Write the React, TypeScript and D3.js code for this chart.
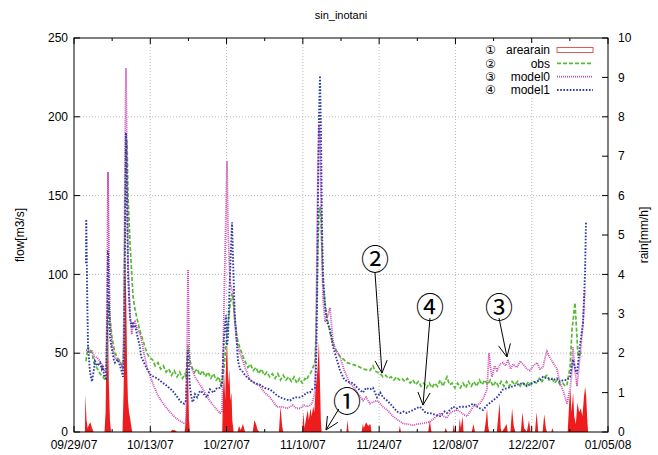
import React from "react";
import * as d3 from "d3";

// time axis: days counted from 09/29/07
const xTickLabels = ["09/29/07", "10/13/07", "10/27/07", "11/10/07", "11/24/07", "12/08/07", "12/22/07", "01/05/08"];
const flowTicks = [0, 50, 100, 150, 200, 250];
const rainTicks = [0, 1, 2, 3, 4, 5, 6, 7, 8, 9, 10];

// [day, rain mm/h]
const arearain: [number, number][] = [
  [2.0, 0], [2.1, 0.95], [2.3, 0.3], [2.5, 0.1], [2.8, 0.2], [3.0, 0.25], [3.3, 0.1], [3.6, 0],
  [5.6, 0], [5.8, 0.5], [5.95, 2.0], [6.1, 3.5], [6.25, 2.6], [6.4, 1.2], [6.6, 0.3], [6.8, 0],
  [8.9, 0], [9.1, 1.0], [9.3, 3.0], [9.45, 4.5], [9.6, 3.2], [9.75, 1.6], [9.9, 0.8], [10.1, 0.5], [10.3, 0.35], [10.5, 0.15], [10.7, 0],
  [14.0, 0], [14.1, 0.05], [14.3, 0], [17.8, 0], [18.0, 0.06], [18.6, 0.04], [18.9, 0],
  [20.3, 0], [20.45, 0.2], [20.65, 0.8], [20.8, 2.2], [20.95, 1.4], [21.1, 0.3], [21.3, 0],
  [27.2, 0], [27.35, 1.0], [27.55, 1.5], [27.75, 0.8], [27.9, 1.8], [28.1, 2.3], [28.3, 1.2], [28.5, 1.6], [28.7, 0.8], [28.9, 1.0], [29.05, 0.3], [29.3, 0],
  [30.0, 0], [30.3, 0.15], [30.6, 0.05], [31.0, 0.2], [31.4, 0], [32.8, 0], [33.1, 0.3], [33.4, 0.2], [33.7, 0.05], [34.0, 0],
  [37.6, 0], [37.9, 0.65], [38.2, 0.15], [38.4, 0],
  [41.9, 0], [42.1, 0.5], [42.3, 0.1], [42.6, 0.35], [42.9, 0.55], [43.1, 0.3], [43.4, 0.6], [43.6, 0.4], [43.9, 0.65], [44.1, 0.5],
  [44.3, 1.0], [44.5, 1.3], [44.7, 1.6], [44.95, 2.3], [45.15, 1.2], [45.3, 0.3], [45.45, 0],
  [50.0, 0], [50.2, 0.3], [50.4, 0], [52.8, 0], [53.0, 0.2], [53.2, 0.1], [53.6, 0.25], [54.0, 0.15], [54.4, 0.2], [54.6, 0],
  [59.6, 0], [59.8, 0.15], [60.0, 0], [65.0, 0], [65.3, 0.3], [65.6, 0], [68.0, 0], [68.2, 0.1], [68.5, 0],
  [69.5, 0], [69.7, 0.2], [69.9, 0], [70.6, 0], [70.8, 0.35], [71.0, 0.1], [71.3, 0.4], [71.5, 0],
  [73.0, 0], [73.3, 0.2], [73.6, 0], [75.3, 0], [75.6, 0.3], [75.8, 0.6], [76.0, 0.15], [76.2, 0],
  [77.6, 0], [77.9, 0.45], [78.1, 0.75], [78.3, 0.1], [78.5, 0], [79.0, 0.1], [79.4, 0.2], [79.6, 0],
  [80.1, 0], [80.4, 0.6], [80.7, 0.15], [81.0, 0], [82.0, 0], [82.3, 0.5], [82.6, 0.1], [83.1, 0], [83.5, 0.3], [83.8, 0],
  [84.6, 0], [84.9, 0.5], [85.2, 0], [86.0, 0], [86.3, 0.45], [86.6, 0.1], [86.8, 0], [87.6, 0], [87.8, 0.1], [88.0, 0],
  [90.6, 0], [90.9, 0.8], [91.1, 1.1], [91.3, 0.5], [91.6, 1.0], [91.8, 0.4], [92.1, 0.2], [92.4, 0.75], [92.7, 0.5],
  [93.0, 0.6], [93.3, 0.4], [93.6, 0.9], [93.8, 1.15], [94.0, 0.9], [94.2, 0.3], [94.35, 0],
];

// [day, flow m3/s]
const obs: [number, number][] = [
  [2.2, 45], [2.57, 54], [2.94, 52], [3.3, 50], [3.67, 44], [4.3, 40], [4.77, 37], [5.1, 36], [5.51, 34], [5.87, 33],
  [6.06, 45], [6.24, 70], [6.42, 82], [6.61, 72], [6.97, 60], [7.52, 50], [8.0, 47], [8.44, 45], [8.99, 40],
  [9.18, 60], [9.36, 140], [9.54, 180], [9.73, 185], [9.91, 150], [10.28, 120], [10.6, 100], [10.83, 86], [11.19, 78],
  [11.56, 72], [12.11, 64], [12.3, 62], [12.85, 56], [13.4, 50], [13.9, 47], [14.4, 46], [14.9, 42], [15.4, 44], [15.9, 40],
  [16.4, 42], [16.9, 38], [17.4, 40], [17.9, 36], [18.4, 39], [18.9, 35], [19.4, 38], [19.9, 34], [20.4, 37], [20.55, 34],
  [20.74, 45], [20.92, 55], [21.1, 50], [21.29, 45], [21.66, 41], [22.1, 38], [22.6, 40], [23.1, 36], [23.6, 39], [24.1, 35],
  [24.6, 38], [25.1, 34], [25.6, 37], [26.1, 33], [26.6, 35], [26.9, 30], [27.16, 32],
  [27.53, 40], [27.89, 55], [28.26, 68], [28.63, 80], [29.0, 88], [29.18, 85], [29.5, 72], [29.91, 60], [30.46, 53],
  [31.01, 48], [31.38, 45], [31.9, 41], [32.4, 43], [32.9, 39], [33.4, 41], [33.9, 37], [34.4, 40], [34.9, 36], [35.4, 38],
  [35.9, 35], [36.4, 37], [36.9, 34], [37.4, 37], [37.9, 33], [38.4, 36], [38.9, 33], [39.4, 35], [39.9, 32], [40.4, 35],
  [40.9, 31], [41.4, 34], [41.9, 31], [42.4, 34], [42.76, 33], [42.94, 35], [43.5, 38], [43.86, 41], [44.23, 45],
  [44.41, 60], [44.6, 90], [44.78, 120], [44.96, 138], [45.15, 143], [45.33, 135], [45.51, 115], [45.7, 95], [46.06, 82],
  [46.43, 73], [46.98, 63], [47.53, 56], [48.2, 51], [48.82, 48], [49.5, 46], [50.1, 44], [51.0, 43], [51.94, 42],
  [53.04, 40], [54.32, 39], [54.87, 42], [55.2, 39], [55.61, 38], [56.2, 37], [56.7, 35], [57.2, 36], [57.7, 34],
  [58.2, 35], [58.7, 33], [59.2, 35], [59.7, 33], [60.2, 34], [60.7, 32], [61.2, 34], [61.7, 31], [62.2, 33], [62.7, 30],
  [63.2, 32], [63.7, 29], [64.2, 31], [64.7, 28], [65.2, 31], [65.7, 28], [66.2, 31], [66.7, 29], [67.2, 33], [67.7, 29],
  [68.2, 33], [68.45, 35], [68.9, 30], [69.4, 31], [69.9, 28], [70.4, 31], [70.9, 28], [71.4, 31], [71.9, 28], [72.4, 32],
  [72.9, 29], [73.4, 32], [73.9, 29], [74.4, 33], [74.9, 30], [75.4, 33], [75.9, 30], [76.4, 33], [76.9, 29], [77.4, 32],
  [77.9, 29], [78.4, 32], [78.9, 29], [79.4, 32], [79.9, 29], [80.4, 32], [80.9, 30], [81.4, 32], [81.9, 29], [82.4, 31],
  [82.9, 29], [83.4, 32], [83.9, 30], [84.4, 32], [84.9, 31], [85.4, 34], [85.9, 32], [86.4, 35], [86.8, 36], [87.2, 33],
  [87.7, 34], [88.2, 31], [88.7, 33], [89.2, 30], [89.7, 31], [90.2, 29], [90.47, 30], [91.03, 41], [91.4, 65], [91.94, 82],
  [92.31, 60], [92.49, 48], [93.0, 50], [93.23, 48],
];

const model0: [number, number][] = [
  [2.2, 52], [2.57, 52], [2.94, 50], [3.3, 52], [3.67, 48], [4.3, 47], [4.77, 45], [5.1, 43], [5.51, 39], [5.87, 38],
  [6.06, 80], [6.24, 165], [6.42, 110], [6.61, 70], [6.97, 55], [7.52, 47], [8.0, 46], [8.44, 45], [8.99, 40],
  [9.18, 80], [9.36, 180], [9.54, 231], [9.73, 170], [9.91, 110], [10.28, 75], [10.6, 62], [10.83, 68], [11.19, 70],
  [11.56, 66], [12.11, 62], [12.3, 60], [12.85, 50], [13.4, 41], [14.13, 34], [14.68, 29], [15.3, 24], [15.97, 20],
  [16.8, 16], [17.8, 12], [18.35, 10], [19.0, 8], [19.64, 6.5], [20.19, 5.6], [20.55, 6],
  [20.74, 50], [20.92, 103], [21.1, 60], [21.29, 42], [21.66, 40], [22.21, 35], [23.12, 30], [23.67, 27], [24.5, 22],
  [25.3, 18], [26.24, 14], [26.79, 12], [27.16, 13], [27.34, 40], [27.53, 80], [27.89, 140], [28.08, 172], [28.26, 130],
  [28.63, 95], [29.0, 90], [29.18, 88], [29.5, 70], [29.91, 56], [30.46, 50], [31.01, 45], [31.38, 41], [32.3, 33],
  [33.2, 31], [34.13, 29], [35.0, 25], [35.97, 22], [36.6, 19], [37.25, 16], [38.2, 16], [39.09, 15], [39.64, 16],
  [40.19, 17], [40.8, 15], [41.48, 15], [42.2, 17], [42.76, 16], [43.31, 17], [43.68, 18], [44.23, 25],
  [44.41, 60], [44.6, 120], [44.78, 170], [44.96, 195], [45.15, 185], [45.33, 150], [45.51, 110], [45.7, 85], [46.06, 70],
  [46.43, 72], [46.98, 79], [47.2, 70], [47.53, 58], [47.9, 53], [48.82, 48], [49.5, 40], [50.1, 35], [50.6, 31],
  [51.2, 29], [52.0, 25], [53.04, 20], [53.6, 22], [54.32, 18], [54.87, 19], [55.61, 20], [56.2, 18], [56.71, 16],
  [57.44, 14], [58.54, 10], [59.28, 8], [60.38, 5.5], [61.11, 5], [62.21, 4.4], [63.0, 5], [64.05, 5.5], [64.7, 6],
  [65.33, 6.5], [66.2, 9], [67.17, 12], [67.8, 10], [68.45, 9], [69.0, 12], [69.55, 13], [70.29, 14], [70.84, 13],
  [71.5, 11], [72.12, 10], [72.7, 13], [73.22, 16], [74.51, 18], [75.2, 22], [75.79, 27], [76.0, 40], [76.16, 50],
  [76.4, 42], [76.71, 35], [77.2, 42], [77.63, 39], [78.18, 43], [78.73, 44], [79.2, 42], [79.65, 46], [80.1, 40],
  [80.6, 43], [81.3, 41], [81.9, 45], [82.4, 43], [83.13, 40], [83.68, 39], [84.3, 42], [84.97, 44], [85.52, 40],
  [86.07, 41], [86.44, 47], [86.8, 51], [87.2, 48], [87.91, 44], [88.64, 40], [89.19, 31], [89.9, 25], [90.47, 18],
  [91.03, 27], [91.3, 35], [91.58, 54], [91.9, 40], [92.31, 29], [92.86, 48], [93.41, 69], [93.78, 90],
];

const model1: [number, number][] = [
  [2.2, 107], [2.25, 135], [2.45, 80], [2.57, 55], [2.94, 38], [3.3, 32], [3.67, 40], [3.85, 45], [4.3, 42], [4.77, 44],
  [5.1, 40], [5.32, 42], [5.51, 36], [5.87, 34], [6.06, 60], [6.24, 115], [6.42, 80], [6.61, 60], [6.97, 52], [7.3, 46],
  [7.52, 44], [8.0, 46], [8.44, 42], [8.8, 38], [8.99, 35], [9.18, 50], [9.36, 120], [9.54, 190], [9.73, 150], [9.91, 100],
  [10.28, 72], [10.6, 66], [10.83, 70], [11.01, 66], [11.19, 68], [11.56, 62], [12.11, 54], [12.3, 48], [12.85, 44],
  [13.4, 40], [14.13, 36], [14.68, 35], [15.3, 34], [15.97, 32], [16.8, 30], [17.8, 27], [18.35, 25], [19.0, 22],
  [19.64, 19], [20.19, 18], [20.55, 20], [20.74, 40], [20.92, 52], [21.1, 40], [21.29, 28], [21.66, 20], [21.84, 19],
  [22.21, 24], [22.6, 22], [23.12, 26], [23.67, 25], [24.04, 23], [24.41, 22], [24.96, 27], [25.6, 25], [26.24, 28],
  [26.79, 28], [27.16, 30], [27.34, 45], [27.53, 60], [27.89, 74], [28.08, 55], [28.26, 60], [28.63, 100], [29.0, 133],
  [29.18, 110], [29.5, 75], [29.91, 55], [30.1, 45], [30.46, 40], [31.01, 38], [31.38, 36], [32.3, 33], [33.2, 31],
  [34.13, 30], [35.0, 28], [35.97, 27], [37.0, 24], [37.8, 22], [38.6, 21], [39.64, 20], [40.5, 22], [41.48, 22],
  [42.03, 23], [42.76, 25], [43.31, 25], [43.68, 27], [44.23, 28], [44.41, 40], [44.6, 80], [44.78, 150], [44.96, 200],
  [45.15, 226], [45.33, 190], [45.51, 130], [45.7, 100], [46.06, 80], [46.43, 70], [46.98, 65], [47.53, 54], [47.9, 50],
  [48.82, 39], [49.5, 34], [50.1, 32], [51.2, 31], [52.0, 28], [53.04, 25], [53.6, 28], [54.32, 27], [54.87, 28],
  [55.61, 22], [56.2, 25], [56.71, 22], [57.44, 20], [58.0, 18], [58.54, 16], [59.28, 13], [59.83, 12], [60.5, 13],
  [61.11, 12], [62.21, 14], [62.8, 15], [63.5, 16], [64.05, 14], [64.6, 12], [65.33, 12], [66.2, 11], [67.17, 10],
  [68.0, 13], [68.45, 12], [69.55, 16], [70.29, 15], [70.84, 16], [72.12, 16], [72.8, 17], [73.22, 18], [74.0, 16],
  [74.51, 15], [75.06, 14], [75.8, 17], [76.9, 20], [77.63, 22], [78.73, 27], [79.65, 28], [80.57, 29], [81.3, 30],
  [82.4, 31], [83.13, 29], [84.0, 31], [84.97, 32], [85.52, 33], [86.07, 35], [86.8, 34], [87.35, 34], [88.0, 33],
  [88.64, 34], [89.19, 32], [89.8, 33], [90.47, 33], [91.03, 35], [91.58, 46], [92.0, 40], [92.31, 37], [92.86, 55],
  [93.41, 69], [93.78, 100], [93.96, 133],
];

// annotations: label, label pos, arrow tail, arrow tip  (day, flow)
const notes: [string, number, number, number, number, number, number][] = [
  ["①", 50.1, 19, 48.6, 14.6, 46.25, 1.3],
  ["②", 55.24, 109, 55.24, 101, 56.52, 37.4],
  ["③", 78.0, 78.7, 78.0, 72.3, 79.46, 47.6],
  ["④", 65.33, 78.7, 65.33, 72.3, 64.05, 17.1],
];

const legendItems = [
  { num: "①", name: "arearain" },
  { num: "②", name: "obs" },
  { num: "③", name: "model0" },
  { num: "④", name: "model1" },
];

const W = 658;
const H = 455;
const margin = { top: 38, right: 50, bottom: 23, left: 74 };
const font = "'Liberation Sans', Arial, sans-serif";
const circ = "'DejaVu Sans', 'Noto Sans CJK JP', sans-serif";
const circBig = "'DejaVu Serif', 'Noto Sans CJK JP', serif";

const parse = d3.utcParse("%m/%d/%y");
const t0 = parse(xTickLabels[0])!.getTime();
const dayDate = (d: number) => new Date(t0 + d * 864e5);

export default function App() {
  const x = d3
    .scaleUtc()
    .domain([parse(xTickLabels[0])!, parse(xTickLabels[xTickLabels.length - 1])!])
    .range([margin.left, W - margin.right]);
  const y = d3.scaleLinear().domain([0, 250]).range([H - margin.bottom, margin.top]);
  const yR = d3.scaleLinear().domain([0, 10]).range([H - margin.bottom, margin.top]);

  const x0 = margin.left;
  const x1 = W - margin.right;
  const yb = H - margin.bottom;
  const yt = margin.top;

  const majors = xTickLabels.map((s) => parse(s)!);
  const minors = majors.slice(0, -1).map((d) => new Date(d.getTime() + 7 * 864e5));

  const rainArea = d3
    .area<[number, number]>()
    .x((d) => x(dayDate(d[0])))
    .y0(yR(0))
    .y1((d) => yR(d[1]));
  const flowLine = d3
    .line<[number, number]>()
    .x((d) => x(dayDate(d[0])))
    .y((d) => y(d[1]));

  const series = [
    { data: obs, color: "#55bb33", dash: "4,2", w: 1.7 },
    { data: model0, color: "#cc4ab4", dash: "1,1", w: 1.8 },
    { data: model1, color: "#2f3ca8", dash: "1.6,1.6", w: 1.9 },
  ];

  const arrowHead = (tx: number, ty: number, fx: number, fy: number) => {
    const a = Math.atan2(ty - fy, tx - fx);
    const len = 14;
    const sp = 0.45;
    const p1 = [tx - len * Math.cos(a - sp), ty - len * Math.sin(a - sp)];
    const p2 = [tx - len * Math.cos(a + sp), ty - len * Math.sin(a + sp)];
    return `M${p1[0]},${p1[1]}L${tx},${ty}L${p2[0]},${p2[1]}`;
  };

  const legendY = [50, 63.3, 76.7, 90];

  return (
    <svg
      width={W}
      height={H}
      style={{ position: "absolute", left: 0, top: 0, background: "#fff" }}
      fontFamily={font}
    >
      <rect x={0} y={0} width={W} height={H} fill="#fff" />
      <text x={(x0 + x1) / 2} y={19} textAnchor="middle" fontSize={11}>
        sin_inotani
      </text>

      {/* grid */}
      {flowTicks.slice(1, -1).map((v) => (
        <line key={"gy" + v} x1={x0} x2={x1} y1={y(v)} y2={y(v)} stroke="#aaa" strokeWidth={0.8} strokeDasharray="1,2" />
      ))}
      {majors.slice(1, -1).map((d, i) => (
        <line key={"gx" + i} x1={x(d)} x2={x(d)} y1={yt} y2={yb} stroke="#aaa" strokeWidth={0.8} strokeDasharray="1,2" />
      ))}

      {/* rain */}
      <path d={rainArea(arearain)!} fill="#ee1c1c" />

      {/* flows */}
      {series.map((s, i) => (
        <path
          key={i}
          d={flowLine(s.data)!}
          fill="none"
          stroke={s.color}
          strokeWidth={s.w}
          strokeDasharray={s.dash}
        />
      ))}

      {/* frame + ticks */}
      <rect x={x0} y={yt} width={x1 - x0} height={yb - yt} fill="none" stroke="#000" strokeWidth={1} />
      {flowTicks.map((v) => (
        <g key={"ly" + v}>
          <line x1={x0} x2={x0 + 6} y1={y(v)} y2={y(v)} stroke="#000" />
          <text x={x0 - 6} y={y(v)} dy="0.35em" textAnchor="end" fontSize={12}>
            {v}
          </text>
        </g>
      ))}
      {rainTicks.map((v) => (
        <g key={"ry" + v}>
          <line x1={x1} x2={x1 - 6} y1={yR(v)} y2={yR(v)} stroke="#000" />
          <text x={x1 + 10} y={yR(v)} dy="0.35em" textAnchor="start" fontSize={12}>
            {v}
          </text>
        </g>
      ))}
      {majors.map((d, i) => (
        <g key={"mx" + i}>
          <line x1={x(d)} x2={x(d)} y1={yb} y2={yb - 6} stroke="#000" />
          <line x1={x(d)} x2={x(d)} y1={yt} y2={yt + 6} stroke="#000" />
          <text x={x(d)} y={yb + 17} textAnchor="middle" fontSize={12}>
            {xTickLabels[i]}
          </text>
        </g>
      ))}
      {minors.map((d, i) => (
        <g key={"nx" + i}>
          <line x1={x(d)} x2={x(d)} y1={yb} y2={yb - 3} stroke="#000" />
          <line x1={x(d)} x2={x(d)} y1={yt} y2={yt + 3} stroke="#000" />
        </g>
      ))}

      <text transform={`translate(24,${(yt + yb) / 2}) rotate(-90)`} textAnchor="middle" fontSize={12}>
        flow[m3/s]
      </text>
      <text transform={`translate(648,${(yt + yb) / 2}) rotate(-90)`} textAnchor="middle" fontSize={12}>
        rain[mm/h]
      </text>

      {/* legend */}
      <rect x={480} y={43} width={117} height={53} fill="#fff" />
      {legendItems.map((it, i) => {
        const ly = legendY[i];
        const s = series[i - 1];
        return (
          <g key={it.name}>
            <text x={485} y={ly} dy="0.36em" fontFamily={circ} fontSize={12}>
              {it.num}
            </text>
            <text x={550} y={ly} dy="0.35em" textAnchor="end" fontSize={12}>
              {it.name}
            </text>
            {i === 0 ? (
              <rect x={557} y={ly - 2.5} width={36} height={5} fill="none" stroke="#e05a5a" strokeWidth={1} />
            ) : (
              <line x1={557} x2={593} y1={ly} y2={ly} stroke={s.color} strokeWidth={s.w} strokeDasharray={s.dash} />
            )}
          </g>
        );
      })}

      {/* annotations */}
      {notes.map(([lab, ld, lf, fd, ff, td, tf]) => {
        const fx = x(dayDate(fd));
        const fy = y(ff);
        const tx = x(dayDate(td));
        const ty = y(tf);
        return (
          <g key={lab}>
            <text x={x(dayDate(ld))} y={y(lf)} dy="0.36em" textAnchor="middle" fontFamily={circBig} fontSize={28}>
              {lab}
            </text>
            <line x1={fx} y1={fy} x2={tx} y2={ty} stroke="#000" strokeWidth={1} />
            <path d={arrowHead(tx, ty, fx, fy)} fill="none" stroke="#000" strokeWidth={1} />
          </g>
        );
      })}
    </svg>
  );
}
